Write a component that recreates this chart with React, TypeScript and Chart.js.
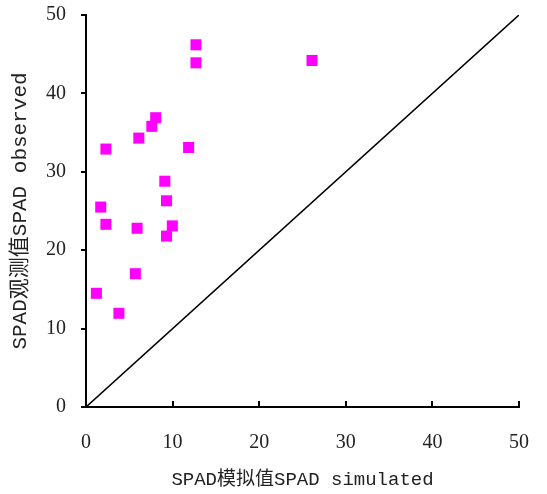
import React, { useEffect, useRef } from "react";
import { Chart, registerables } from "chart.js";

Chart.register(...registerables);

const simulated = [12.7, 12.7, 26.1, 8.05, 7.6, 6.1, 2.3, 11.85, 9.1, 9.3, 1.7, 2.3, 5.9, 9.97, 9.3, 5.7, 1.2, 3.8];
const observed = [46.2, 43.9, 44.2, 36.9, 35.8, 34.3, 32.9, 33.1, 28.8, 26.3, 25.5, 23.3, 22.8, 23.1, 21.8, 17.0, 14.5, 11.95];
const lineX = [0, 50];
const lineY = [0, 50];
const xTitle = "SPAD模拟值SPAD simulated";
const yTitle = "SPAD观测值SPAD observed";

const tickFont = { family: "'Liberation Serif', serif", size: 20 };
const titleFontX = { family: "'Liberation Mono', 'Noto Sans CJK SC', monospace", size: 19 };
const titleFontY = { family: "'Liberation Mono', 'Noto Sans CJK SC', monospace", size: 21 };

export default function App() {
  const ref = useRef<HTMLCanvasElement>(null);
  useEffect(() => {
    if (!ref.current) return;
    const chart = new Chart(ref.current, {
      type: "scatter",
      data: {
        datasets: [
          {
            type: "line",
            data: lineX.map((x, i) => ({ x, y: lineY[i] })),
            borderColor: "#000",
            borderWidth: 1.6,
            pointRadius: 0,
            fill: false,
          } as any,
          {
            data: simulated.map((x, i) => ({ x, y: observed[i] })),
            pointStyle: "rect",
            pointRadius: 7.8,
            backgroundColor: "#FF00FF",
            borderColor: "#FF00FF",
            borderWidth: 0,
          },
        ],
      },
      options: {
        responsive: false,
        animation: false,
        layout: { padding: { left: 0, right: 28, top: 15, bottom: 0 } },
        plugins: { legend: { display: false }, tooltip: { enabled: false } },
        scales: {
          x: {
            type: "linear",
            min: 0,
            max: 50,
            ticks: { stepSize: 10, color: "#222", font: tickFont, padding: 30, maxRotation: 0 },
            grid: { drawOnChartArea: false, color: "#000", lineWidth: 2, tickLength: -6 },
            border: { color: "#000", width: 2 },
            title: { display: true, text: xTitle, color: "#222", font: titleFontX, padding: { top: 0, bottom: 3 } },
            afterFit: (s: any) => { s.height = 87; s.paddingLeft = 0; s.paddingRight = 0; },
          },
          y: {
            type: "linear",
            min: 0,
            max: 50,
            ticks: { stepSize: 10, color: "#222", font: tickFont, padding: 15 },
            grid: { drawOnChartArea: false, color: "#000", lineWidth: 2, tickLength: 5 },
            border: { color: "#000", width: 2 },
            title: { display: true, text: yTitle, color: "#222", font: titleFontY, padding: { top: 8, bottom: 0 } },
            afterFit: (s: any) => { s.width = 86; s.paddingTop = 0; s.paddingBottom = 0; },
          },
        },
      },
    });
    return () => chart.destroy();
  }, []);
  return (
    <div style={{ position: "absolute", left: 0, top: 0, width: 547, height: 494, background: "#fff" }}>
      <canvas ref={ref} width={547} height={494} />
    </div>
  );
}
